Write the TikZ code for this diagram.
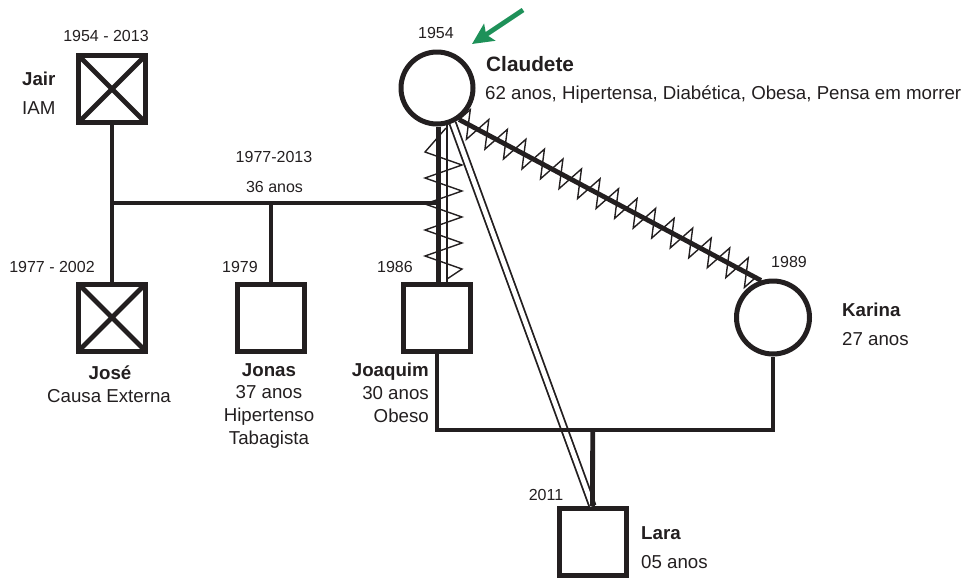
\documentclass[tikz,border=0pt]{standalone}
\usepackage{fontspec}
\setmainfont{Liberation Sans}
\usetikzlibrary{decorations.pathmorphing,arrows.meta,calc}
\definecolor{ink}{HTML}{231F20}
\definecolor{arrowgreen}{HTML}{1E9159}
\begin{document}
\begin{tikzpicture}[x=1pt,y=-1pt,
  person/.style={draw=ink, line width=5pt, fill=white, inner sep=0pt},
  male/.style={person, rectangle, minimum size=67pt},
  female/.style={person, circle, minimum size=72pt},
  rel/.style={draw=ink, line width=4.8pt},
  deadcross/.style={draw=ink, line width=4.7pt},
  thinzig/.style={draw=ink, line width=1.4pt, line join=miter},
  zigdeco/.style={thinzig, decorate, decoration={zigzag, segment length=21pt, amplitude=14pt}},
  closeline/.style={draw=ink, line width=1.8pt, double=white, double distance=4.6pt},
  greenarrow/.style={draw=arrowgreen, line width=4.8pt, -{Stealth[length=21pt,width=20pt,inset=4pt]}},
  yr/.style={text=ink, inner sep=0pt, font=\fontsize{16}{18}\selectfont},
  lb/.style={text=ink, inner sep=0pt, font=\fontsize{18.7}{22.7}\selectfont},
  nm/.style={text=ink, inner sep=0pt, font=\bfseries\fontsize{18.7}{22.7}\selectfont},
  bignm/.style={text=ink, inner sep=0pt, font=\bfseries\fontsize{20.8}{24}\selectfont}]
\useasboundingbox (0,0) rectangle (962,579);

% persons
\node[male] (jair) at (112,89) {};
\node[male] (jose) at (112,317.5) {};
\node[male] (jonas) at (271,318) {};
\node[male] (joaquim) at (437,318) {};
\node[male] (lara) at (592.5,542) {};
\node[female] (claudete) at (437,88) {};
\node[female, minimum size=73pt] (karina) at (773,317.5) {};

% deceased crosses
\foreach \p in {jair,jose}{
  \draw[deadcross] ([shift={(-33.5,-33.5)}]\p.center) -- ([shift={(33.5,33.5)}]\p.center)
                   ([shift={(33.5,-33.5)}]\p.center) -- ([shift={(-33.5,33.5)}]\p.center);
}

% coordinates
\coordinate (mL) at (112,203);
\coordinate (mR) at (438.5,203);
\coordinate (mJ) at (271,203);
\coordinate (jk) at (592.7,430);
\coordinate (arrowTail) at (523,10);
\coordinate (arrowTip) at (472,44);

% close relationship Claudete - Lara
\draw[closeline] (claudete.-66) -- (lara.north);

% Jair - Jose, marriage, Jonas
\draw[rel] (jair.south) -- (jose.north);
\draw[rel] (mL) -- (mR);
\draw[rel] (mJ) -- (jonas.north);

% Claudete - Joaquim (thick + thin + zigzag)
\draw[rel] ([xshift=1.5pt]claudete.south) -- ([xshift=1.5pt]joaquim.north);
\draw[thinzig] (claudete.-75) -- (claudete.-75 |- joaquim.north);
\draw[thinzig] (446,128) -- (425,152) -- (462,165) -- (425,178) -- (462,191) -- (425,204)
  -- (462,217) -- (425,230) -- (462,243) -- (425,256) -- (462,269) -- (447,279);

% Claudete - Karina (hostile)
\draw[rel] (claudete.-55) -- (karina.108);
\draw[zigdeco] (claudete.-55) -- (karina.108);

% Joaquim - Karina union and Lara
\draw[rel] (joaquim.south) |- (jk) -| (karina.south);
\draw[rel] (jk) -- (lara.north);

% index arrow
\draw[greenarrow] (arrowTail) -- (arrowTip);

% labels
\node[yr, anchor=base] at (106,41.5) {1954 - 2013};
\node[nm, anchor=base west] at (22,85.5) {Jair};
\node[lb, anchor=base west] at (22,114.5) {IAM};
\node[yr, anchor=base] at (52,272.5) {1977 - 2002};
\node[nm, anchor=base] at (110,379.5) {José};
\node[lb, anchor=base] at (109,402.5) {Causa Externa};
\node[yr, anchor=base] at (274,162.5) {1977-2013};
\node[yr, anchor=base] at (274.5,192.5) {36 anos};
\node[yr, anchor=base] at (240,272.5) {1979};
\node[yr, anchor=base] at (395,272.5) {1986};
\node[yr, anchor=base] at (546,500.5) {2011};
\node[yr, anchor=base] at (789,267.5) {1989};
\node[yr, anchor=base] at (436,38.5) {1954};
\node[bignm, anchor=base west] at (486,71) {Claudete};
\node[lb, anchor=base west] at (485,99.5) {62 anos, Hipertensa, Diabética, Obesa, Pensa em morrer};
\node[nm, anchor=base west] at (842,316.5) {Karina};
\node[lb, anchor=base west] at (842,345.5) {27 anos};
\node[nm, anchor=base west] at (641,539.5) {Lara};
\node[lb, anchor=base west] at (641,568.5) {05 anos};
\node[lb, anchor=north, align=center] at (269,363.2) {\textbf{Jonas}\\37 anos\\Hipertenso\\Tabagista};
\node[lb, anchor=north east, align=right] at (429,363.2) {\textbf{Joaquim}\\30 anos\\Obeso};
\end{tikzpicture}
\end{document}
